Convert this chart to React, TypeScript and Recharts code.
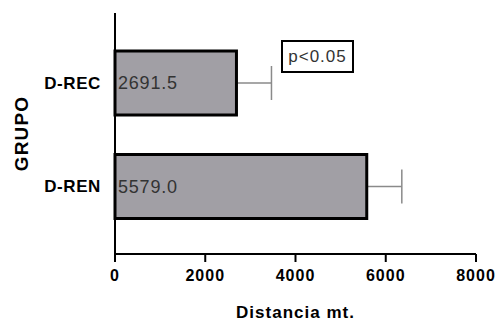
import { BarChart, Bar, XAxis, YAxis, LabelList } from 'recharts';

const grupos = ['D-REC', 'D-REN'];
const medias = [2691.5, 5579.0];
const desvios = [776, 777];
const xTicks = [0, 2000, 4000, 6000, 8000];

const data = grupos.map((g, i) => ({ grupo: g, media: medias[i], sd: desvios[i] }));

const FONT = '"Liberation Sans", Arial, sans-serif';

// bar + right-side error whisker (left half hidden inside the bar, like GraphPad)
function BarWithError(props: any) {
  const { x, y, width, height, payload } = props;
  const pxPerUnit = width / payload.media;
  const cy = y + height / 2;
  const xEnd = x + width + payload.sd * pxPerUnit;
  return (
    <g>
      <line x1={x + width} y1={cy} x2={xEnd} y2={cy} stroke="#8a8a8a" strokeWidth={1.5} />
      <line x1={xEnd} y1={cy - 17} x2={xEnd} y2={cy + 17} stroke="#8a8a8a" strokeWidth={1.5} />
      <rect x={x} y={y} width={width} height={height} fill="#a19fa5" stroke="#000" strokeWidth={3} />
    </g>
  );
}

export default function App() {
  return (
    <div style={{ position: 'absolute', left: 0, top: 0, width: 499, height: 324, background: '#fff' }}>
      <BarChart
        width={499}
        height={324}
        data={data}
        layout="vertical"
        margin={{ top: 13, right: 23, bottom: 0, left: 0 }}
      >
        <XAxis
          type="number"
          domain={[0, 8000]}
          ticks={xTicks}
          stroke="#000"
          strokeWidth={2}
          tickSize={8}
          tickMargin={8}
          height={70}
          tick={{ fill: '#000', fontSize: 16, fontWeight: 'bold', fontFamily: FONT, letterSpacing: 1 }}
          label={{
            value: 'Distancia mt.',
            position: 'insideBottom',
            offset: 6,
            style: { fill: '#000', fontSize: 17, fontWeight: 'bold', fontFamily: FONT, letterSpacing: 1 },
          }}
        />
        <YAxis
          type="category"
          dataKey="grupo"
          width={115}
          stroke="#000"
          strokeWidth={2}
          tickLine={false}
          tickSize={0}
          tickMargin={14}
          padding={{ top: 18, bottom: 16 }}
          tick={{ fill: '#000', fontSize: 17, fontWeight: 'bold', fontFamily: FONT, letterSpacing: 0.6 }}
          label={{
            value: 'GRUPO',
            angle: -90,
            position: 'insideLeft',
            offset: 21,
            style: { textAnchor: 'middle', fill: '#000', fontSize: 19, fontWeight: 'bold', fontFamily: FONT, letterSpacing: 1.2 },
          }}
        />
        <Bar dataKey="media" barSize={64} shape={<BarWithError />} isAnimationActive={false}>
          <LabelList
            dataKey="media"
            position="insideLeft"
            offset={3}
            formatter={(v: any) => Number(v).toFixed(1)}
            style={{ fill: '#333', fontSize: 18, fontFamily: FONT, letterSpacing: 0.8 }}
          />
        </Bar>
      </BarChart>
      <div
        style={{
          position: 'absolute',
          left: 281,
          top: 40,
          width: 69,
          height: 29,
          border: '2px solid #000',
          fontFamily: FONT,
          fontSize: 17,
          letterSpacing: 1,
          color: '#333',
          display: 'flex',
          alignItems: 'center',
          justifyContent: 'center',
          lineHeight: 1,
        }}
      >
        p&lt;0.05
      </div>
    </div>
  );
}
